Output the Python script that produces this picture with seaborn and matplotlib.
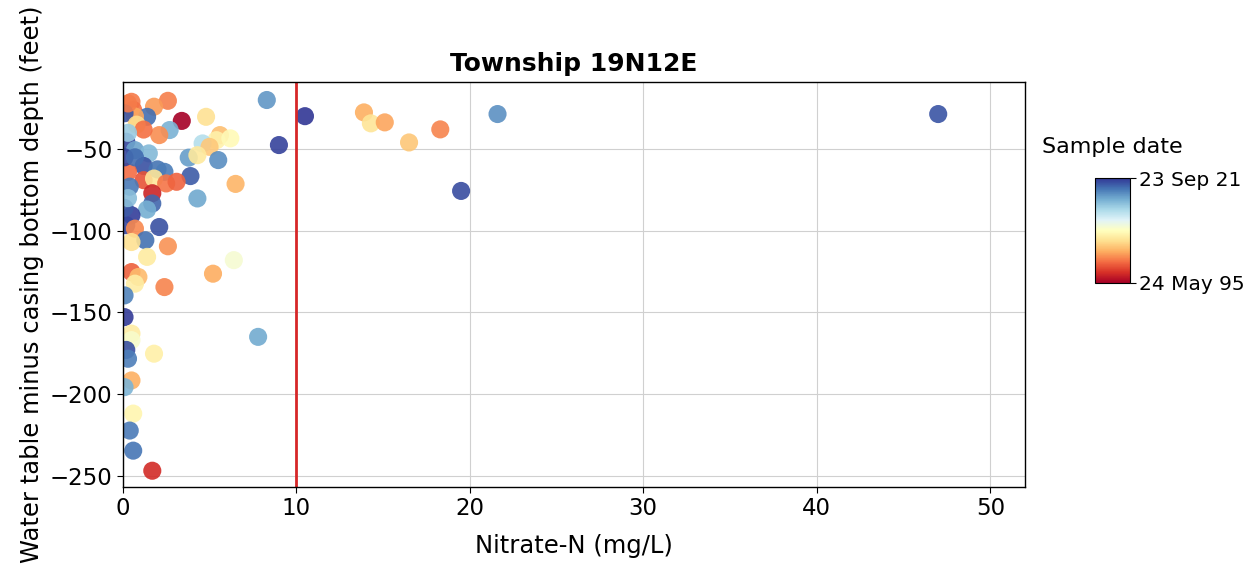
import numpy as np
import pandas as pd
import matplotlib
matplotlib.use("Agg")
import matplotlib.pyplot as plt
import matplotlib.dates as mdates
import seaborn as sns

# Nitrate-N (mg/L)
nitrate = [
    8.3, 10.5, 9.0, 13.9, 14.3, 15.1, 16.5, 18.3, 21.6, 19.5, 47.0, 7.8,
    0.5, 2.6, 1.8, 0.6, 1.4, 0.7, 3.4, 4.8, 2.7, 2.1, 5.6, 5.4, 6.2, 4.6,
    5.0, 0.2, 0.7, 1.5, 3.8, 5.5, 4.3, 1.2, 2.0, 2.4, 0.3, 3.9, 1.2, 1.8,
    2.5, 3.1, 6.5, 0.4, 1.7, 1.7, 1.4, 4.3, 0.5, 0.2, 2.1, 0.7, 1.3, 0.5,
    2.6, 1.4, 6.4, 0.5, 0.9, 0.7, 5.2, 2.4, 0.1, 0.1, 0.5, 0.5, 0.2, 0.3,
    1.8, 0.5, 0.1, 0.6, 0.4, 0.6, 1.7, 0.1, 0.3, 0.8, 0.1, 0.7, 0.1, 0.3,
    1.2, 0.3,
]

# water table minus casing bottom depth (feet)
depth = [
    -19.9, -29.8, -47.5, -27.5, -34.2, -33.6, -45.9, -37.9, -28.5, -75.6, -28.5, -165.0,
    -21.0, -20.4, -24.0, -26.0, -30.2, -30.0, -32.7, -30.2, -38.3, -41.4, -41.4, -44.5,
    -43.4, -46.5, -48.6, -45.5, -50.6, -52.6, -55.2, -56.7, -53.7, -60.3, -62.4, -63.9,
    -63.9, -66.5, -69.0, -68.0, -71.0, -70.0, -71.3, -73.0, -77.0, -83.3, -87.0, -80.2,
    -90.5, -96.6, -97.7, -98.7, -105.8, -106.9, -109.5, -116.0, -118.0, -125.3, -128.3,
    -132.4, -126.3, -134.5, -139.6, -152.9, -163.0, -167.0, -173.0, -178.4, -175.3,
    -191.7, -195.8, -212.0, -222.4, -234.7, -247.0, -28.0, -22.0, -35.0, -55.0, -55.0,
    -86.0, -80.0, -38.0, -40.0,
]

# sample dates
sample_dates = [
    "2017-06-01", "2021-09-23", "2021-03-01", "2003-06-01", "2006-05-01", "2003-01-01",
    "2004-08-01", "2001-09-01", "2017-10-01", "2020-10-01", "2020-06-01", "2016-08-01",
    "2001-03-01", "2001-06-01", "2002-07-01", "2000-11-01", "2019-05-01", "2003-02-01",
    "1995-05-24", "2006-03-01", "2016-02-01", "2002-01-01", "2004-03-01", "2007-06-01",
    "2008-02-01", "2013-05-01", "2004-09-01", "2021-01-01", "2016-11-01", "2015-09-01",
    "2017-03-01", "2017-12-01", "2006-09-01", "2020-08-01", "2019-02-01", "2018-09-01",
    "2000-09-01", "2020-02-01", "1999-08-01", "2006-07-01", "2001-01-01", "2000-04-01",
    "2003-09-01", "2018-11-01", "1997-06-01", "2019-08-01", "2016-05-01", "2016-09-01",
    "2021-05-01", "2020-12-01", "2020-07-01", "2001-11-01", "2019-03-01", "2006-01-01",
    "2002-04-01", "2006-11-01", "2009-06-01", "2000-02-01", "2004-01-01", "2007-02-01",
    "2003-04-01", "2001-08-01", "2018-06-01", "2021-07-01", "2006-12-01", "2009-02-01",
    "2020-09-01", "2018-08-01", "2007-04-01", "2003-07-01", "2016-01-01", "2007-09-01",
    "2018-10-01", "2019-01-01", "1997-11-01", "2020-05-01", "2001-05-01", "2005-11-01",
    "2021-02-01", "2019-06-01", "2020-03-01", "2015-06-01", "2000-10-01", "2014-09-01",
]

df = pd.DataFrame({"nitrate": nitrate, "depth": depth,
                   "date": pd.to_datetime(sample_dates)})
df["date_num"] = mdates.date2num(df["date"])

vmin, vmax = df["date_num"].min(), df["date_num"].max()
norm = plt.Normalize(vmin, vmax)
cmap = plt.get_cmap("RdYlBu")

sns.set_style("whitegrid")
plt.rcParams["font.family"] = ["DejaVu Sans"]
plt.rcParams["text.color"] = "black"
plt.rcParams["axes.labelcolor"] = "black"
plt.rcParams["xtick.color"] = "black"
plt.rcParams["ytick.color"] = "black"

fig = plt.figure(figsize=(12.53, 5.67), dpi=100)
ax = fig.add_axes([0.098, 0.141, 0.72, 0.714])

sns.scatterplot(
    data=df, x="nitrate", y="depth", hue="date_num",
    palette=cmap, hue_norm=norm, s=170, alpha=0.9,
    linewidth=0, legend=False, ax=ax,
)

# drinking water limit
ax.axvline(10, color="#d62728", linewidth=2)

ax.set_xlim(0, 52)
ax.set_ylim(-257, -9)
ax.set_xticks([0, 10, 20, 30, 40, 50])
ax.set_yticks([-250, -200, -150, -100, -50])
ax.tick_params(labelsize=16.5, length=4, left=True, bottom=True)
for sp in ax.spines.values():
    sp.set_color("black")
    sp.set_linewidth(1)
ax.grid(color="#d0d0d0", linewidth=0.8)

ax.set_title("Township 19N12E", fontsize=18, fontweight="bold", pad=8)
ax.set_xlabel("Nitrate-N (mg/L)", fontsize=17.5, labelpad=10)
ax.set_ylabel("Water table minus casing bottom depth (feet)", fontsize=17.5)

# colorbar for sample date
cax = fig.add_axes([0.874, 0.501, 0.028, 0.185])
sm = plt.cm.ScalarMappable(norm=norm, cmap=cmap)
cbar = fig.colorbar(sm, cax=cax)
cbar.set_ticks([vmin, vmax])
cbar.set_ticklabels([mdates.num2date(vmin).strftime("%d %b %y"),
                     mdates.num2date(vmax).strftime("%d %b %y")])
cbar.ax.tick_params(labelsize=14.5, length=4, pad=2)
cbar.outline.set_edgecolor("black")
cax.set_title("Sample date", fontsize=16, pad=18)

plt.savefig("out.png", dpi=100)
plt.close()
